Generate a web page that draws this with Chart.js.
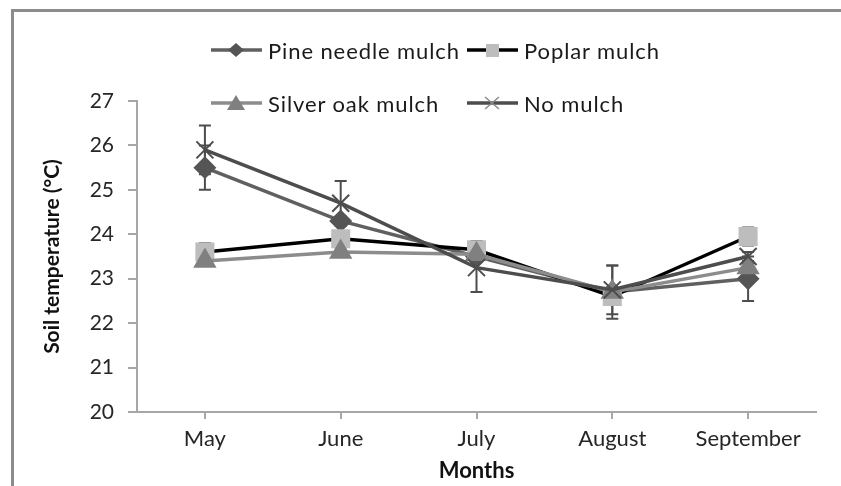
<!DOCTYPE html>
<html lang="en">
<head>
<meta charset="UTF-8">
<script src="https://cdn.jsdelivr.net/npm/chart.js"></script>
<title>Soil temperature under mulches</title>
<style>
  body { margin: 0; background: #fff; }
  #wrap { position: relative; width: 841px; height: 486px; overflow: hidden; }
  #frame { position: absolute; left: 11px; top: 9px; right: -5px; bottom: -5px;
           border-top: 3px solid #8c8c8c; border-left: 3px solid #8c8c8c; }
  .leg { position: absolute; display: flex; align-items: center; height: 30px;
         font-family: Lato, sans-serif; font-size: 22px; color: #1a1a1a; letter-spacing: 0.9px; white-space: nowrap; }
  .leg svg { margin-right: 6px; }
</style>
</head>
<body>
<div id="wrap">
  <div id="frame"></div>
  <canvas id="soilChart" width="841" height="486"></canvas>
</div>

<script>
// values
const months = ['May', 'June', 'July', 'August', 'September'];
const seriesNames = ['Pine needle mulch', 'Poplar mulch', 'Silver oak mulch', 'No mulch'];
const pineNeedle = [25.5, 24.3, 23.5, 22.7, 23.0];
const poplar = [23.6, 23.9, 23.65, 22.6, 23.95];
const silverOak = [23.4, 23.6, 23.55, 22.7, 23.25];
const noMulch = [25.9, 24.7, 23.25, 22.75, 23.5];
// error bar half-widths
const pineNeedleErr = [0.5, 0.1, 0.1, 0.6, 0.5];
const poplarErr = [0.2, 0.1, 0.2, 0.1, 0.2];
const silverOakErr = [0.1, 0.1, 0.1, 0.1, 0.1];
const noMulchErr = [0.55, 0.5, 0.55, 0.55, 0.1];
const yTicks = [20, 21, 22, 23, 24, 25, 26, 27];

const font = 'Lato';

// legend (two rows, like the original)
const legendPos = [[211, 35], [467, 35], [211, 88], [467, 88]];
const legendLine = ['#606060', '#000000', '#8c8c8c', '#4d4d4d'];
const legendMark = [
    '<polygon points="25,5 33,12 25,19 17,12" fill="#555"/>',
    '<rect x="19" y="6" width="13" height="13" fill="#bdbdbd"/>',
    '<polygon points="25,4 34,19 16,19" fill="#808080"/>',
    '<path d="M18,6 L32,18 M32,6 L18,18" stroke="#8a8a8a" stroke-width="1.5"/>'
];
seriesNames.forEach((name, i) => {
    const d = document.createElement('div');
    d.className = 'leg';
    d.style.left = legendPos[i][0] + 'px';
    d.style.top = legendPos[i][1] + 'px';
    d.innerHTML = '<svg width="51" height="24"><line x1="0" y1="12" x2="51" y2="12" stroke="' +
        legendLine[i] + '" stroke-width="3.5"/>' + legendMark[i] + '</svg><span>' + name + '</span>';
    document.getElementById('wrap').appendChild(d);
});

const errorBars = {
    id: 'errorBars',
    beforeDatasetsDraw(chart) {
        const ctx = chart.ctx;
        const y = chart.scales.y;
        chart.data.datasets.forEach((ds, i) => {
            const meta = chart.getDatasetMeta(i);
            ctx.save();
            ctx.strokeStyle = '#4d4d4d';
            ctx.lineWidth = 2;
            meta.data.forEach((pt, j) => {
                const top = y.getPixelForValue(ds.data[j] + ds.errors[j]);
                const bot = y.getPixelForValue(ds.data[j] - ds.errors[j]);
                ctx.beginPath();
                ctx.moveTo(pt.x, top); ctx.lineTo(pt.x, bot);
                ctx.moveTo(pt.x - 6, top); ctx.lineTo(pt.x + 6, top);
                ctx.moveTo(pt.x - 6, bot); ctx.lineTo(pt.x + 6, bot);
                ctx.stroke();
            });
            ctx.restore();
        });
    }
};

const ctx = document.getElementById('soilChart').getContext('2d');
new Chart(ctx, {
    type: 'line',
    data: {
        labels: months,
        datasets: [{
            label: seriesNames[0], data: pineNeedle, errors: pineNeedleErr, order: 3,
            borderColor: '#606060', borderWidth: 3.5,
            pointStyle: 'rectRot', pointRadius: 9,
            pointBackgroundColor: '#555', pointBorderColor: '#555'
        }, {
            label: seriesNames[1], data: poplar, errors: poplarErr, order: 2,
            borderColor: '#000000', borderWidth: 3.5,
            pointStyle: 'rect', pointRadius: 11,
            pointBackgroundColor: '#bdbdbd', pointBorderColor: '#bdbdbd'
        }, {
            label: seriesNames[2], data: silverOak, errors: silverOakErr, order: 1,
            borderColor: '#8c8c8c', borderWidth: 3.5,
            pointStyle: 'triangle', pointRadius: 10,
            pointBackgroundColor: '#808080', pointBorderColor: '#808080'
        }, {
            label: seriesNames[3], data: noMulch, errors: noMulchErr, order: 0,
            borderColor: '#4d4d4d', borderWidth: 3.5,
            pointStyle: 'crossRot', pointRadius: 12, pointBorderWidth: 2,
            pointBackgroundColor: '#4d4d4d', pointBorderColor: '#4d4d4d'
        }]
    },
    options: {
        responsive: false,
        animation: false,
        layout: { padding: { left: 12, right: 25, top: 101, bottom: 0 } },
        plugins: { legend: { display: false }, tooltip: { enabled: false } },
        elements: { line: { tension: 0 } },
        scales: {
            x: {
                offset: true,
                grid: { offset: false, drawOnChartArea: false, tickLength: 7, color: '#a6a6a6', lineWidth: 2 },
                border: { color: '#a6a6a6', width: 2 },
                ticks: { color: '#262626', font: { family: font, size: 22 }, padding: 7 },
                title: {
                    display: true, text: 'Months', color: '#111',
                    font: { family: font, size: 22, weight: 'bold' }, padding: { top: 0, bottom: 2 }
                },
                afterFit: s => { s.height = 74; }
            },
            y: {
                min: 20, max: 27,
                afterBuildTicks: s => { s.ticks = yTicks.map(v => ({ value: v })); },
                grid: { drawOnChartArea: false, tickLength: 9, color: '#a6a6a6', lineWidth: 2 },
                border: { color: '#a6a6a6', width: 2 },
                ticks: { color: '#262626', font: { family: font, size: 21 }, padding: 14 },
                title: {
                    display: true, text: 'Soil temperature (°C)', color: '#111',
                    font: { family: font, size: 21, weight: 'bold' }, padding: { top: 28, bottom: 0 }
                },
                afterFit: s => { s.width = 125; }
            }
        }
    },
    plugins: [errorBars]
});
</script>
</body>
</html>
